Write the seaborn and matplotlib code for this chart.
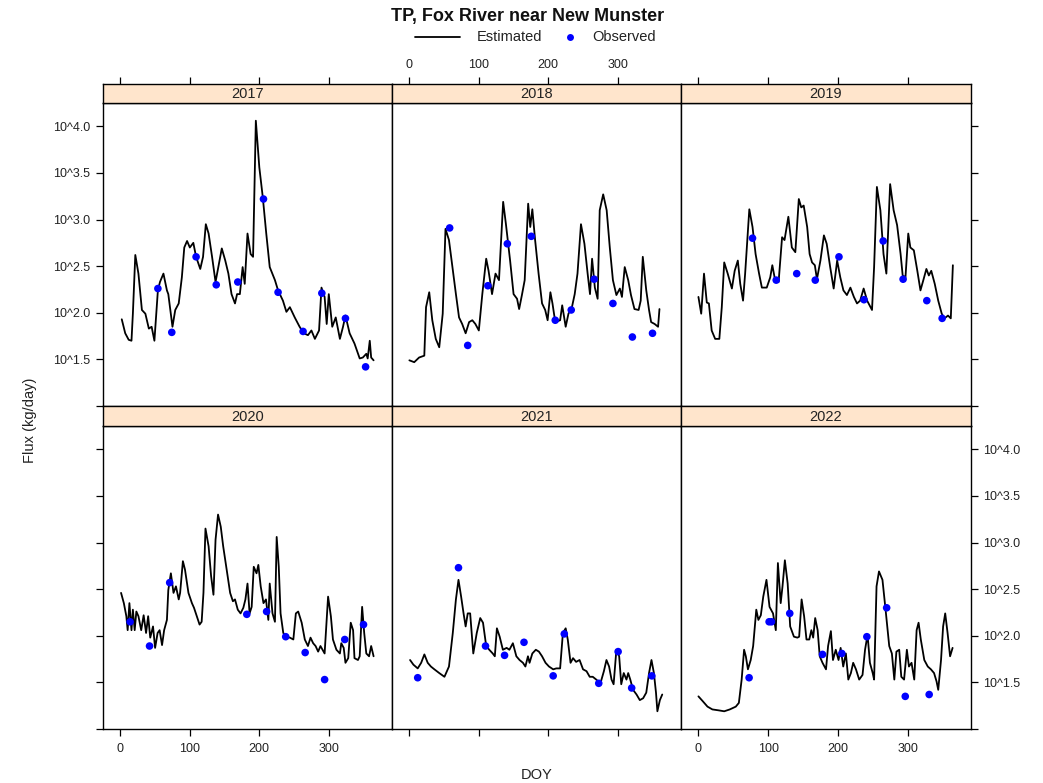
import matplotlib
matplotlib.use("Agg")
import matplotlib.pyplot as plt
import seaborn as sns
import pandas as pd
from matplotlib.lines import Line2D

sns.set_theme(style="white")
plt.rcParams["font.family"] = ["Liberation Sans", "DejaVu Sans"]

title = "TP, Fox River near New Munster"
legend_labels = ["Estimated", "Observed"]
years = [2017, 2018, 2019, 2020, 2021, 2022]
x_ticks = [0, 100, 200, 300]
y_ticks = [1.0, 1.5, 2.0, 2.5, 3.0, 3.5, 4.0]
y_tick_labels = ["", "10^1.5", "10^2.0", "10^2.5", "10^3.0", "10^3.5", "10^4.0"]

# ---- Estimated daily flux (log10 kg/day) ----
est_doy_2017 = [2, 7, 12, 16, 18, 21.5, 26, 31, 36, 41, 45, 49, 54, 57, 62, 67, 69, 75, 79, 84, 88.5, 92, 96, 100,
                105, 109, 115, 119, 123, 127, 132, 137, 141, 146, 151, 155.5, 160, 165, 168, 172, 176, 179, 183,
                187.5, 191, 195, 200, 205, 210, 215, 222.5, 227, 234, 239, 244, 251, 258, 264, 270, 275, 280, 286,
                289.5, 294, 297, 300, 305, 310, 316, 320.5, 324, 330, 337, 344.5, 349, 354, 356, 359, 361, 364.5]
est_log_2017 = [1.93, 1.78, 1.71, 1.70, 1.99, 2.62, 2.42, 2.03, 1.99, 1.83, 1.85, 1.70, 2.24, 2.33, 2.42, 2.24, 2.20,
                1.85, 2.03, 2.10, 2.38, 2.70, 2.77, 2.70, 2.75, 2.60, 2.47, 2.60, 2.95, 2.85, 2.60, 2.33, 2.49, 2.69,
                2.56, 2.42, 2.20, 2.10, 2.20, 2.20, 2.49, 2.31, 2.85, 2.63, 2.60, 4.06, 3.56, 3.24, 2.85, 2.49, 2.35,
                2.24, 2.13, 2.01, 2.06, 1.95, 1.85, 1.78, 1.76, 1.81, 1.72, 1.81, 2.27, 2.17, 1.88, 2.20, 1.85, 1.95,
                1.72, 1.85, 1.97, 1.78, 1.67, 1.51, 1.52, 1.56, 1.51, 1.70, 1.52, 1.49]

est_doy_2018 = [0, 7, 14, 21.5, 24, 28.6, 33, 38, 43, 48, 52, 57, 62, 67, 71.5, 76, 81, 86, 90.6, 95, 100, 105, 110.6,
                114, 119, 124, 129, 135, 139, 145, 150, 155, 158, 162, 166, 171, 174, 177, 181, 186, 191, 195.5, 199,
                203, 206, 210, 217, 220, 225, 229, 234, 238, 242, 247, 252, 256.6, 260, 263, 267, 271, 274, 279, 284,
                288.5, 293, 298, 303, 306, 310, 315, 319, 324, 330, 333, 336, 341, 345, 348, 353, 358, 360]
est_log_2018 = [1.49, 1.47, 1.52, 1.54, 2.06, 2.22, 1.92, 1.72, 1.63, 1.99, 2.90, 2.78, 2.49, 2.20, 1.95, 1.88, 1.78,
                1.90, 1.92, 1.88, 1.81, 2.20, 2.58, 2.45, 2.20, 2.42, 2.35, 3.19, 2.95, 2.56, 2.20, 2.15, 2.04, 2.19,
                2.35, 3.17, 2.92, 3.11, 2.78, 2.42, 2.10, 2.03, 1.92, 2.22, 2.10, 1.90, 1.92, 2.08, 1.85, 1.99, 2.06,
                2.20, 2.42, 2.95, 2.74, 2.42, 2.20, 2.58, 2.27, 2.15, 3.10, 3.27, 3.10, 2.70, 2.35, 2.19, 2.26, 2.17,
                2.49, 2.35, 2.19, 2.04, 2.03, 2.13, 2.60, 2.24, 2.03, 1.90, 1.88, 1.85, 2.04]

est_doy_2019 = [0, 4, 8, 12, 15, 19, 24, 30, 33.5, 37, 42, 48, 52, 56.5, 60, 64, 67, 73, 77.6, 82, 87, 91, 98, 103,
                106, 110, 115, 120, 123.5, 129, 134, 139, 144, 147.5, 151, 156, 159.5, 163, 167, 170, 175, 180, 184,
                189, 194, 199, 203.5, 208, 213, 218, 223, 227.5, 232, 237, 242, 249, 252, 256, 261, 265.5, 269.6, 275,
                280, 285, 290, 293, 297, 301, 304, 309, 314, 318.5, 323, 327, 330.5, 334, 339, 344, 349, 353, 358,
                362, 365]
est_log_2019 = [2.17, 1.99, 2.42, 2.11, 2.10, 1.81, 1.72, 1.72, 2.06, 2.54, 2.42, 2.26, 2.45, 2.56, 2.31, 2.13, 2.42,
                3.11, 2.92, 2.63, 2.42, 2.27, 2.27, 2.38, 2.51, 2.35, 2.33, 2.81, 2.78, 3.03, 2.70, 2.65, 3.22, 3.13,
                3.15, 2.92, 2.63, 2.54, 2.51, 2.36, 2.56, 2.83, 2.74, 2.49, 2.26, 2.56, 2.38, 2.24, 2.19, 2.27, 2.17,
                2.10, 2.13, 2.26, 2.13, 2.03, 2.49, 3.35, 3.10, 2.63, 2.42, 3.38, 3.10, 2.94, 2.63, 2.40, 2.38, 2.85,
                2.70, 2.67, 2.45, 2.24, 2.36, 2.47, 2.40, 2.45, 2.31, 2.13, 1.99, 1.94, 1.97, 1.94, 2.51]

est_doy_2020 = [1, 5, 8.6, 10.5, 13, 16, 18, 20.6, 23, 26, 30, 33.5, 37, 40, 43, 47, 50, 53.6, 56.5, 60, 63, 67, 69,
                72.7, 76.5, 80, 84, 86, 90, 93, 98, 103, 106, 110, 114, 117, 119.6, 122.5, 127, 130.6, 134, 137, 140.6,
                144.5, 148, 153, 158, 162, 165, 169, 173, 177, 180, 183, 186, 189, 192, 196, 198.6, 202, 206, 209.6,
                213, 215, 219, 222.5, 225, 228, 230.6, 234.5, 239, 244, 249, 252.6, 256, 261, 265.5, 270, 273.7,
                277.5, 281, 284.7, 288, 291, 294, 299, 303, 306, 311, 316, 318, 321.5, 324, 328, 331.6, 335, 337,
                342, 344.5, 348, 351, 354, 358, 361, 364.5]
est_log_2020 = [2.46, 2.35, 2.21, 2.06, 2.35, 2.06, 2.28, 2.06, 2.26, 2.21, 2.06, 2.22, 2.03, 2.21, 1.98, 2.10, 1.87,
                2.03, 2.06, 1.90, 2.06, 2.17, 2.49, 2.67, 2.46, 2.53, 2.39, 2.46, 2.80, 2.71, 2.46, 2.35, 2.30, 2.21,
                2.12, 2.15, 2.46, 3.15, 2.96, 2.64, 2.44, 3.03, 3.30, 3.17, 2.96, 2.71, 2.46, 2.37, 2.39, 2.28, 2.24,
                2.30, 2.39, 2.56, 2.24, 2.31, 2.74, 2.67, 2.76, 2.53, 2.35, 2.39, 2.17, 2.56, 2.24, 2.15, 3.06, 2.74,
                2.24, 2.03, 1.99, 1.98, 1.96, 2.24, 2.26, 2.14, 1.96, 1.89, 1.98, 1.92, 1.89, 1.83, 1.89, 1.85, 1.81,
                2.42, 2.21, 1.96, 1.85, 1.81, 1.92, 1.87, 1.71, 1.76, 2.14, 2.06, 1.76, 1.74, 1.78, 2.31, 2.03, 1.81,
                1.78, 1.89, 1.78]

est_doy_2021 = [1, 5.8, 12, 17, 21.6, 26.4, 31, 36, 43, 50.5, 57, 62.5, 67, 70.7, 74.5, 78, 81, 84, 87.5, 92, 97, 102,
                106, 110.6, 115, 120, 123, 126, 130, 134.6, 140, 144, 149, 154, 158.6, 163.5, 167, 170.7, 173, 177,
                182, 186.5, 191, 196, 201, 207, 211.5, 217, 221, 225, 228, 232, 235.6, 240, 245, 250, 255, 259.6, 264,
                269, 275, 280, 283.7, 287.5, 291, 294, 298, 302, 305, 308.6, 312.5, 315, 318, 322, 327, 331.7, 336.5,
                341, 345, 348.5, 352, 355, 357, 360.6, 364]
est_log_2021 = [1.74, 1.69, 1.65, 1.71, 1.80, 1.71, 1.67, 1.64, 1.60, 1.56, 1.67, 2.03, 2.39, 2.60, 2.42, 2.24, 2.10,
                2.24, 2.24, 1.81, 2.03, 2.19, 2.14, 1.89, 1.85, 1.81, 1.78, 2.08, 1.99, 1.85, 1.87, 1.85, 1.92, 1.78,
                1.74, 1.71, 1.67, 1.78, 1.71, 1.81, 1.85, 1.83, 1.78, 1.71, 1.67, 1.64, 1.65, 1.65, 2.03, 2.08, 1.96,
                1.71, 1.76, 1.72, 1.74, 1.64, 1.62, 1.56, 1.56, 1.53, 1.49, 1.62, 1.74, 1.67, 1.53, 1.48, 1.85, 1.78,
                1.48, 1.60, 1.53, 1.60, 1.53, 1.42, 1.37, 1.31, 1.33, 1.39, 1.60, 1.74, 1.60, 1.39, 1.19, 1.31, 1.37]

est_doy_2022 = [0, 6, 13, 20, 29, 37, 45, 53.6, 58, 62, 65.5, 68, 71, 75, 78.5, 83, 86, 89.5, 93, 97.6, 102, 107, 111,
                114, 118, 120.6, 124, 128, 131.6, 137, 142, 144.5, 148, 151.6, 155, 159, 162, 164.6, 167.5, 171, 174,
                178, 183, 186, 190, 193, 197, 201, 204, 207.7, 211.5, 215, 218.7, 222, 226, 230.6, 235.4, 239, 242.6,
                246, 250, 252, 255.5, 259, 264, 269, 273.7, 277.5, 281, 284, 288, 291, 295, 299, 302, 305.7, 309.6,
                313, 315.8, 319, 324, 329, 333.5, 338, 341.6, 344, 348, 351, 354, 357.4, 361, 364.6]
est_log_2022 = [1.35, 1.30, 1.24, 1.21, 1.20, 1.19, 1.21, 1.24, 1.28, 1.53, 1.85, 1.78, 1.64, 1.74, 1.89, 2.28, 2.17,
                2.22, 2.42, 2.60, 2.31, 2.24, 2.06, 2.78, 2.35, 2.53, 2.81, 2.56, 2.10, 1.99, 1.98, 1.99, 2.39, 2.21,
                1.96, 1.96, 2.06, 1.98, 2.19, 2.06, 1.78, 1.71, 1.64, 1.89, 2.05, 1.74, 1.85, 1.74, 1.87, 1.67, 1.81,
                1.53, 1.60, 1.71, 1.64, 1.53, 1.58, 1.85, 2.01, 1.71, 1.60, 1.53, 2.53, 2.69, 2.60, 2.24, 1.89, 1.81,
                1.53, 1.83, 1.85, 1.56, 1.53, 1.85, 1.67, 1.71, 1.53, 2.06, 2.14, 1.96, 1.74, 1.67, 1.64, 1.60, 1.51,
                1.42, 1.74, 2.10, 2.24, 2.03, 1.78, 1.87]

# ---- Observed flux (log10 kg/day) ----
obs_doy_2017 = [54, 74, 109, 138, 169, 206, 227, 263, 290, 324, 353]
obs_log_2017 = [2.26, 1.79, 2.60, 2.30, 2.33, 3.22, 2.22, 1.80, 2.21, 1.94, 1.42]
obs_doy_2018 = [58, 84, 113, 141, 175.5, 210, 233, 266, 293, 321, 350]
obs_log_2018 = [2.91, 1.65, 2.29, 2.74, 2.82, 1.92, 2.03, 2.36, 2.10, 1.74, 1.78]
obs_doy_2019 = [77.6, 111.6, 141, 167.6, 201.6, 237.5, 265, 293.6, 327.6, 349.6]
obs_log_2019 = [2.80, 2.35, 2.42, 2.35, 2.60, 2.14, 2.77, 2.36, 2.13, 1.94]
obs_doy_2020 = [14, 42, 71, 182, 210.5, 238, 266, 294, 323, 350]
obs_log_2020 = [2.15, 1.89, 2.57, 2.23, 2.26, 1.99, 1.82, 1.53, 1.96, 2.12]
obs_doy_2021 = [12, 70.7, 109.6, 137, 165, 207, 223, 272.6, 300.5, 320, 349]
obs_log_2021 = [1.55, 2.73, 1.89, 1.79, 1.93, 1.57, 2.02, 1.49, 1.83, 1.44, 1.57]
obs_doy_2022 = [72.7, 101.4, 104.8, 131, 178, 205.7, 241.6, 270, 296.7, 331]
obs_log_2022 = [1.55, 2.15, 2.15, 2.24, 1.80, 1.81, 1.99, 2.30, 1.35, 1.37]

est_doy = [est_doy_2017, est_doy_2018, est_doy_2019, est_doy_2020, est_doy_2021, est_doy_2022]
est_log = [est_log_2017, est_log_2018, est_log_2019, est_log_2020, est_log_2021, est_log_2022]
obs_doy = [obs_doy_2017, obs_doy_2018, obs_doy_2019, obs_doy_2020, obs_doy_2021, obs_doy_2022]
obs_log = [obs_log_2017, obs_log_2018, obs_log_2019, obs_log_2020, obs_log_2021, obs_log_2022]

est_df = pd.concat([pd.DataFrame({"year": y, "DOY": d, "logflux": v}) for y, d, v in zip(years, est_doy, est_log)])
obs_df = pd.concat([pd.DataFrame({"year": y, "DOY": d, "logflux": v}) for y, d, v in zip(years, obs_doy, obs_log)])

W, H = 1043, 783
fig = plt.figure(figsize=(W / 100, H / 100), dpi=100)
fig.patch.set_facecolor("white")


def box(x0, y0, x1, y1):
    return [x0 / W, 1 - y1 / H, (x1 - x0) / W, (y1 - y0) / H]


col_x = [(103, 392), (392, 681), (681, 971)]
row_panel = [(103, 406), (426, 729)]
row_strip = [(84, 103), (406, 426)]
XLIM = (-25, 391)
YLIM = (1.0, 4.25)
STRIP = "#FFE5CC"
TICKFS = 9
TXT = "#222222"

for i, yr in enumerate(years):
    r, c = divmod(i, 3)
    x0, x1 = col_x[c]
    ax = fig.add_axes(box(x0, row_panel[r][0], x1, row_panel[r][1]))
    sax = fig.add_axes(box(x0, row_strip[r][0], x1, row_strip[r][1]))

    sub_e = est_df[est_df["year"] == yr]
    sub_o = obs_df[obs_df["year"] == yr]
    sns.lineplot(data=sub_e, x="DOY", y="logflux", ax=ax, color="black", lw=1.3,
                 estimator=None, sort=False, legend=False)
    sns.scatterplot(data=sub_o, x="DOY", y="logflux", ax=ax, color="#0000FF", s=30,
                    edgecolor="none", legend=False, zorder=3)
    ax.set_xlim(*XLIM)
    ax.set_ylim(*YLIM)
    ax.set_xlabel("")
    ax.set_ylabel("")
    ax.set_facecolor("white")
    for sp in ax.spines.values():
        sp.set_color("black")
        sp.set_linewidth(1.0)
        sp.set_visible(True)

    ax.set_xticks(x_ticks)
    ax.set_yticks(y_ticks)
    ax.tick_params(axis="both", direction="out", length=5, width=0.9, color="black",
                   labelsize=TICKFS, labelcolor=TXT, pad=4,
                   bottom=False, top=False, left=False, right=False,
                   labelbottom=False, labeltop=False, labelleft=False, labelright=False)
    if r == 1:
        ax.tick_params(axis="x", bottom=True, labelbottom=(c != 1), pad=5)
    if c == 0:
        ax.tick_params(axis="y", left=True, labelleft=(r == 0))
    if c == 2:
        ax.tick_params(axis="y", right=True, labelright=(r == 1))
    ax.set_yticklabels(y_tick_labels)

    # strip
    sax.set_facecolor(STRIP)
    sax.set_xlim(*XLIM)
    sax.set_ylim(0, 1)
    sax.set_yticks([])
    for sp in sax.spines.values():
        sp.set_color("black")
        sp.set_linewidth(1.0)
        sp.set_visible(True)
    sax.text(0.5, 0.47, str(yr), transform=sax.transAxes, ha="center", va="center",
             fontsize=10.5, color=TXT)
    if r == 0:
        sax.set_xticks(x_ticks)
        sax.tick_params(axis="x", direction="out", length=5, width=0.9, color="black",
                        bottom=False, labelbottom=False, top=True, labeltop=(c == 1),
                        labelsize=TICKFS, labelcolor=TXT, pad=4)
    else:
        sax.set_xticks([])

# titles / labels
fig.text(528 / W, 1 - 16 / H, title, ha="center", va="center", fontsize=13,
         fontweight="bold", color="#111111")
fig.text(30 / W, 1 - 420 / H, "Flux (kg/day)", rotation=90, ha="center", va="center",
         fontsize=10.5, color=TXT)
fig.text(537 / W, 1 - 775 / H, "DOY", ha="center", va="center", fontsize=10.5, color=TXT)

# legend (lattice-style key)
ly = 1 - 37 / H
fig.add_artist(Line2D([415 / W, 460 / W], [ly, ly], transform=fig.transFigure, color="black", lw=1.3))
fig.text(477 / W, ly, legend_labels[0], ha="left", va="center", fontsize=10.5, color=TXT)
fig.add_artist(Line2D([570 / W], [ly], transform=fig.transFigure, marker="o", color="none",
                      markerfacecolor="#0000FF", markeredgecolor="none", markersize=5))
fig.text(592 / W, ly, legend_labels[1], ha="left", va="center", fontsize=10.5, color=TXT)

fig.savefig("out.png", dpi=100, facecolor="white")
